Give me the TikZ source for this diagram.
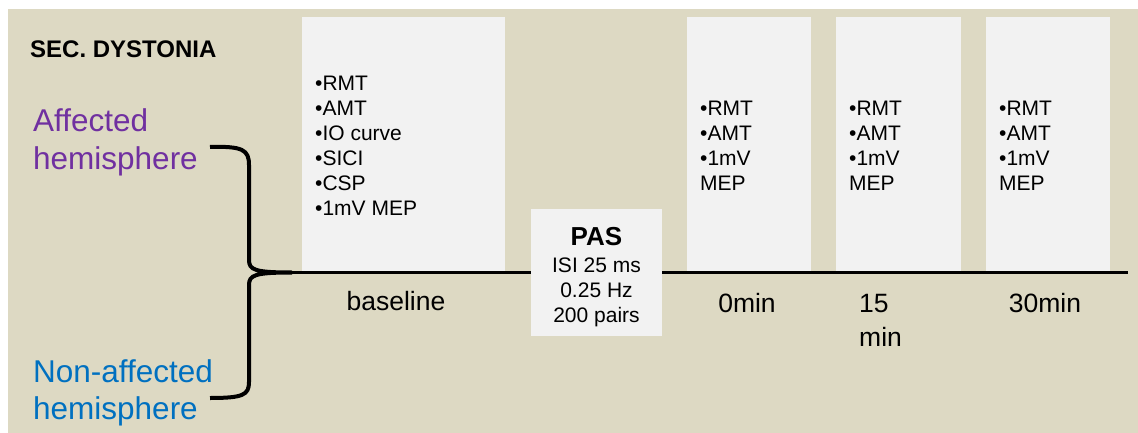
\documentclass[tikz,border=0pt]{standalone}
\usepackage{fontspec}
\setmainfont{Liberation Sans}
\usetikzlibrary{positioning}
\definecolor{bgtan}{HTML}{DDD9C3}
\definecolor{boxgray}{HTML}{F2F2F2}
\definecolor{affpurple}{HTML}{7030A0}
\definecolor{nonblue}{HTML}{0070C0}

\begin{document}
\begin{tikzpicture}[x=1pt,y=-1pt,
    box/.style={fill=boxgray,inner sep=0pt,anchor=north west},
    items/.style={anchor=base west,align=left,inner sep=0pt,font=\fontsize{21}{25}\selectfont},
    tlabel/.style={anchor=base,inner sep=0pt,font=\fontsize{26.5}{34}\selectfont}]
    \useasboundingbox (0,0) rectangle (1138,433);
    \fill[bgtan] (8,9) rectangle (1138,433);

    % time line (behind the boxes)
    \coordinate (tip) at (292,272.5);
    \coordinate (line end) at (1128,272.5);
    \draw[line width=3pt] (tip) -- (line end);

    \node[anchor=base west,inner sep=0pt,font=\bfseries\fontsize{24}{24}\selectfont] (title) at (30,58) {SEC. DYSTONIA};
    \node[anchor=base west,align=left,inner sep=0pt,text=affpurple,font=\fontsize{31.5}{38}\selectfont] (affected) at (33,170) {Affected\\hemisphere};
    \node[anchor=base west,align=left,inner sep=0pt,text=nonblue,font=\fontsize{31.5}{37}\selectfont] (nonaffected) at (33,419) {Non-affected\\hemisphere};

    % measurement boxes
    \node[box,minimum width=203pt,minimum height=254pt] (base) at (302,17) {};
    \node[box,minimum width=124pt,minimum height=254pt] (t0) at (687,17) {};
    \node[box,minimum width=125pt,minimum height=254pt] (t15) at (836,17) {};
    \node[box,minimum width=124pt,minimum height=254pt] (t30) at (986,17) {};
    \node[box,minimum width=131pt,minimum height=127pt] (pas) at (531,209) {};

    % anchors sit on the last line
    \node[items] (baseitems) at (315,215) {•RMT\\•AMT\\•IO curve\\•SICI\\•CSP\\•1mV MEP};
    \node[items] (t0items) at (700,190) {•RMT\\•AMT\\•1mV\\MEP};
    \node[items] (t15items) at (849,190) {•RMT\\•AMT\\•1mV\\MEP};
    \node[items] (t30items) at (999,190) {•RMT\\•AMT\\•1mV\\MEP};
    \node[anchor=base,inner sep=0pt,font=\bfseries\fontsize{26}{26}\selectfont] (pastitle) at (596.5,245) {PAS};
    \node[anchor=base,align=center,inner sep=0pt,font=\fontsize{21}{25}\selectfont] (pasitems) at (596.5,322) {ISI 25 ms\\0.25 Hz\\200 pairs};

    % brace
    \draw[line width=4pt] (210,147) .. controls (243,146) and (249,150) .. (249,165) -- (249,260)
        .. controls (249,270) and (255,272.5) .. (tip)
        .. controls (255,272.5) and (249,275) .. (249,285) -- (249,382)
        .. controls (249,395) and (243,398) .. (210,398);

    \node[tlabel] (lbase) at (396,310) {baseline};
    \node[tlabel] (l0) at (747,312) {0min};
    \node[tlabel,anchor=base west,align=left] (l15) at (859,346) {15\\min};
    \node[tlabel] (l30) at (1045,312) {30min};
\end{tikzpicture}
\end{document}
